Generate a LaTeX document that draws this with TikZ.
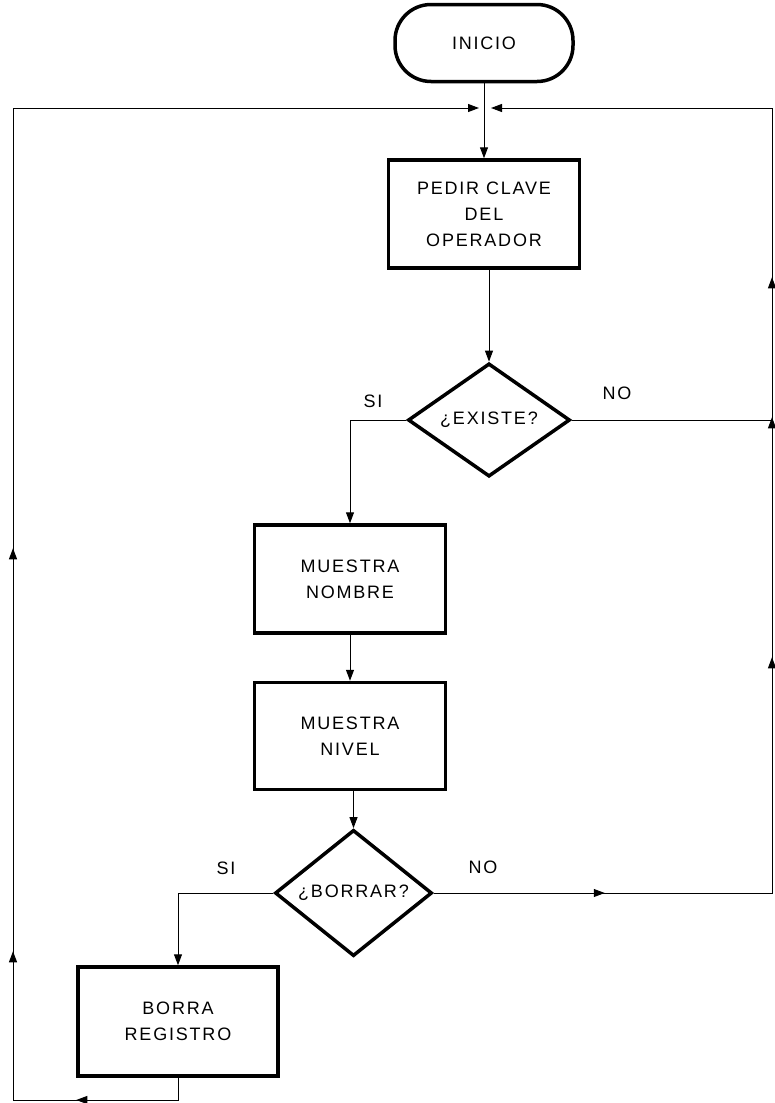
\documentclass[tikz,border=0pt]{standalone}
\usepackage{fontspec}
\newfontfamily\lbl[LetterSpace=10]{Liberation Sans}
\usetikzlibrary{shapes.geometric,arrows.meta,decorations.markings}

\begin{document}
\begin{tikzpicture}[x=1pt,y=-1pt,
  txt/.style={font=\lbl\fontsize{18}{26}\selectfont, align=center},
  term/.style={draw, line width=3.5pt, rounded corners=36pt, inner sep=0pt, txt},
  proc/.style={draw, line width=3.5pt, inner sep=0pt, txt},
  dec/.style={diamond, draw, line width=3.5pt, inner sep=0pt, txt},
  lbltext/.style={txt},
  conn/.style={line width=1pt, -{Triangle[length=11pt,width=8pt]}},
  plain/.style={line width=1pt},
  tip/.style={decoration={markings,
      mark=at position #1 with {\arrow{Triangle[length=11pt,width=8pt]}}},
      postaction={decorate}}]
\useasboundingbox (0,0) rectangle (774,1103);

% process nodes
\node[term, minimum width=178, minimum height=77] (inicio) at (484,43) {INICIO};
\node[proc, minimum width=191, minimum height=108] (pedir) at (484,214) {PEDIR CLAVE\\DEL\\OPERADOR};
\node[dec, minimum width=162, minimum height=104] (existe) at (489,420) {¿EXISTE?};
\node[proc, minimum width=191, minimum height=108] (nombre) at (350,579) {MUESTRA\\NOMBRE};
\node[proc, minimum width=191, minimum height=107] (nivel) at (350,736) {MUESTRA\\NIVEL};
\node[dec, minimum width=157, minimum height=107] (borrar) at (353.5,893) {¿BORRAR?};
\node[proc, minimum width=200, minimum height=109] (borra) at (178,1021.5) {BORRA\\REGISTRO};

% branch labels
\node[lbltext] (si1) at (373,401) {SI};
\node[lbltext] (no1) at (617,393) {NO};
\node[lbltext] (si2) at (226,868) {SI};
\node[lbltext] (no2) at (483,867) {NO};

% corners of the return loops
\coordinate (mergeL) at (479,108);
\coordinate (mergeR) at (491,108);
\coordinate (cTL) at (13,108);
\coordinate (cBL) at (13,1100);
\coordinate (cTR) at (772,108);
\coordinate (cBR) at (772,893);

% main flow
\draw[conn] (inicio.south) -- (inicio.south |- pedir.north);
\draw[conn] (existe.north |- pedir.south) -- (existe.north);
\draw[conn] (existe.west) -| (nombre.north);
\draw[conn] (nombre.south) -- (nombre.south |- nivel.north);
\draw[conn] (borrar.north |- nivel.south) -- (borrar.north);
\draw[conn] (borrar.west) -| (borra.north);

% return loop after deleting the record
\draw[conn, tip=124pt,
  decoration={markings,
    mark=at position 336pt with {\arrow{Triangle[length=11pt,width=8pt]}},
    mark=at position 739pt with {\arrow{Triangle[length=11pt,width=8pt]}}}]
  (borra.south) |- (cBL) -- (cTL) -- (mergeL);

% return loop when no record is deleted
\draw[conn, tip=171pt,
  decoration={markings,
    mark=at position 574pt with {\arrow{Triangle[length=11pt,width=8pt]}},
    mark=at position 814pt with {\arrow{Triangle[length=11pt,width=8pt]}},
    mark=at position 954pt with {\arrow{Triangle[length=11pt,width=8pt]}}}]
  (borrar.east) -- (cBR) -- (cTR) -- (mergeR);

% operator not found
\draw[plain] (existe.east) -- (existe.east -| cBR);
\end{tikzpicture}
\end{document}
